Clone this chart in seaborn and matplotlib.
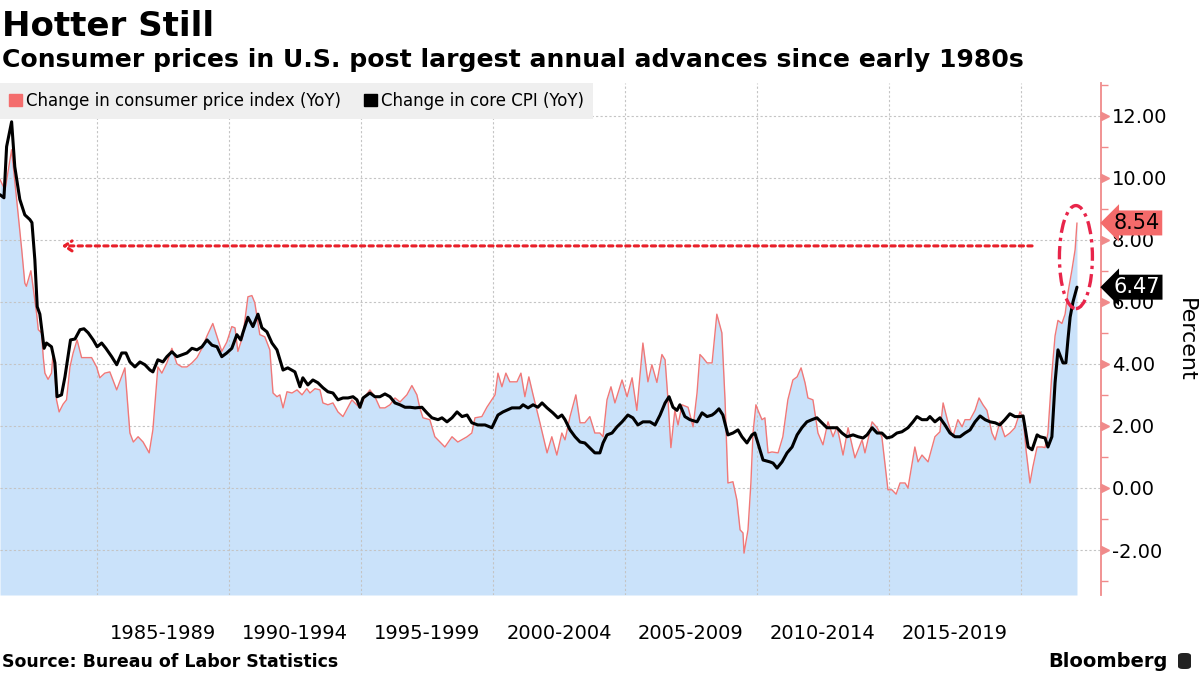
import matplotlib
matplotlib.use("Agg")
import matplotlib.pyplot as plt
import seaborn as sns
import pandas as pd
import numpy as np
from matplotlib.patches import Ellipse, Patch, FancyBboxPatch

# ---------------- data ----------------
cpi_year = [1981.33, 1981.52, 1981.77, 1981.96, 1982.15, 1982.27, 1982.33, 1982.50, 1982.58, 1982.72,
            1982.78, 1982.90, 1982.97, 1983.03, 1983.15, 1983.28, 1983.34, 1983.41, 1983.47, 1983.57,
            1983.72, 1983.85, 1983.98, 1984.10, 1984.25, 1984.42, 1984.61, 1984.80, 1984.99, 1985.11,
            1985.30, 1985.49, 1985.75, 1985.90, 1986.06, 1986.25, 1986.38, 1986.56, 1986.75, 1986.98,
            1987.12, 1987.31, 1987.46, 1987.65, 1987.84, 1988.03, 1988.22, 1988.41, 1988.60, 1988.79,
            1988.98, 1989.17, 1989.39, 1989.58, 1989.73, 1989.92, 1990.11, 1990.23, 1990.34, 1990.53,
            1990.72, 1990.87, 1990.98, 1991.17, 1991.36, 1991.55, 1991.67, 1991.82, 1991.93, 1992.05,
            1992.20, 1992.39, 1992.58, 1992.77, 1992.95, 1993.07, 1993.26, 1993.45, 1993.56, 1993.75,
            1993.94, 1994.13, 1994.32, 1994.51, 1994.66, 1994.77, 1994.96, 1995.15, 1995.34, 1995.53,
            1995.72, 1995.91, 1996.10, 1996.29, 1996.48, 1996.74, 1996.93, 1997.12, 1997.23, 1997.35,
            1997.61, 1997.80, 1998.18, 1998.45, 1998.67, 1999.02, 1999.20, 1999.32, 1999.58, 1999.77,
            2000.08, 2000.19, 2000.34, 2000.49, 2000.64, 2000.91, 2001.06, 2001.21, 2001.36, 2001.52,
            2001.78, 2002.05, 2002.23, 2002.42, 2002.61, 2002.73, 2002.92, 2003.14, 2003.30, 2003.48,
            2003.67, 2003.86, 2004.05, 2004.17, 2004.32, 2004.47, 2004.62, 2004.89, 2005.08, 2005.27,
            2005.45, 2005.68, 2005.87, 2006.02, 2006.21, 2006.40, 2006.52, 2006.63, 2006.74, 2006.89,
            2007.01, 2007.16, 2007.39, 2007.58, 2007.73, 2007.84, 2007.95, 2008.11, 2008.30, 2008.41,
            2008.48, 2008.67, 2008.79, 2008.90, 2009.09, 2009.24, 2009.36, 2009.47, 2009.51, 2009.66,
            2009.77, 2009.85, 2009.96, 2010.04, 2010.19, 2010.30, 2010.42, 2010.57, 2010.80, 2010.98,
            2011.17, 2011.36, 2011.52, 2011.67, 2011.82, 2011.93, 2012.12, 2012.31, 2012.50, 2012.69,
            2012.88, 2013.03, 2013.14, 2013.26, 2013.45, 2013.71, 2013.98, 2014.09, 2014.36, 2014.55,
            2014.73, 2014.96, 2015.11, 2015.27, 2015.42, 2015.61, 2015.72, 2015.98, 2016.10, 2016.25,
            2016.48, 2016.74, 2016.93, 2017.05, 2017.23, 2017.42, 2017.61, 2017.77, 2017.88, 2018.07,
            2018.26, 2018.41, 2018.56, 2018.71, 2018.90, 2019.02, 2019.20, 2019.39, 2019.58, 2019.77,
            2019.96, 2020.08, 2020.19, 2020.34, 2020.45, 2020.61, 2020.80, 2020.91, 2021.02, 2021.17,
            2021.29, 2021.40, 2021.55, 2021.67, 2021.78, 2021.93, 2022.05, 2022.12]

cpi_values = [9.94, 9.6, 10.9, 9.3, 7.7, 6.6, 6.5, 7.0, 6.5, 5.6,
              5.1, 5.0, 4.2, 3.7, 3.5, 3.7, 4.35, 3.7, 2.84, 2.45,
              2.7, 2.84, 3.9, 4.35, 4.77, 4.2, 4.2, 4.2, 3.9, 3.55,
              3.7, 3.74, 3.16, 3.5, 3.87, 1.77, 1.48, 1.65, 1.48, 1.13,
              1.87, 3.9, 3.7, 4.03, 4.5, 4.0, 3.9, 3.9, 4.03, 4.2,
              4.5, 4.9, 5.3, 4.8, 4.4, 4.7, 5.2, 5.16, 4.4, 4.9,
              6.16, 6.2, 5.97, 4.94, 4.87, 4.45, 3.06, 2.94, 3.0, 2.58,
              3.1, 3.06, 3.16, 3.0, 3.2, 3.06, 3.2, 3.16, 2.74, 2.68,
              2.74, 2.45, 2.3, 2.6, 2.84, 2.74, 2.58, 2.94, 3.16, 2.94,
              2.58, 2.58, 2.68, 2.9, 2.77, 3.0, 3.3, 3.0, 2.58, 2.26,
              2.2, 1.65, 1.32, 1.65, 1.48, 1.65, 1.77, 2.26, 2.3, 2.6,
              3.0, 3.7, 3.26, 3.7, 3.42, 3.42, 3.7, 2.94, 3.58, 3.0,
              2.1, 1.13, 1.65, 1.06, 1.77, 1.55, 2.3, 3.0, 2.1, 2.1,
              2.3, 1.77, 1.77, 1.65, 2.84, 3.26, 2.74, 3.48, 2.94, 3.55,
              2.5, 4.67, 3.42, 3.97, 3.4, 4.3, 4.13, 2.84, 1.3, 2.5,
              2.03, 2.68, 2.6, 1.97, 3.06, 4.3, 4.2, 4.03, 4.03, 5.0,
              5.6, 5.0, 2.84, 0.16, 0.2, -0.39, -1.35, -1.45, -2.1, -1.35,
              0.16, 1.77, 2.68, 2.5, 2.2, 2.26, 1.13, 1.16, 1.13, 1.65,
              2.84, 3.48, 3.58, 3.87, 3.39, 2.9, 2.84, 1.77, 1.39, 2.13,
              1.65, 1.97, 1.55, 1.06, 1.94, 0.97, 1.55, 1.13, 2.13, 1.94,
              1.65, -0.06, -0.06, -0.2, 0.16, 0.16, 0.0, 1.32, 0.84, 1.06,
              0.84, 1.65, 1.81, 2.74, 2.13, 1.65, 2.2, 1.97, 2.2, 2.2,
              2.5, 2.9, 2.68, 2.5, 1.77, 1.55, 2.13, 1.65, 1.77, 1.94,
              2.45, 2.26, 1.23, 0.16, 0.68, 1.32, 1.32, 1.3, 1.77, 3.7,
              4.9, 5.4, 5.3, 5.6, 6.3, 7.03, 7.68, 8.54]

core_year = [1981.33, 1981.48, 1981.58, 1981.77, 1981.89, 1982.08, 1982.27, 1982.46, 1982.54, 1982.65,
             1982.74, 1982.84, 1983.00, 1983.09, 1983.28, 1983.41, 1983.49, 1983.66, 1983.79, 1984.00,
             1984.17, 1984.36, 1984.51, 1984.67, 1984.86, 1985.01, 1985.18, 1985.34, 1985.56, 1985.75,
             1985.94, 1986.10, 1986.25, 1986.44, 1986.63, 1986.82, 1987.01, 1987.12, 1987.31, 1987.50,
             1987.65, 1987.84, 1988.03, 1988.22, 1988.41, 1988.60, 1988.79, 1988.98, 1989.17, 1989.36,
             1989.55, 1989.73, 1989.92, 1990.11, 1990.30, 1990.45, 1990.53, 1990.72, 1990.91, 1991.10,
             1991.25, 1991.44, 1991.63, 1991.82, 1992.05, 1992.23, 1992.50, 1992.69, 1992.80, 1992.99,
             1993.18, 1993.37, 1993.56, 1993.75, 1993.94, 1994.13, 1994.32, 1994.51, 1994.70, 1994.85,
             1994.96, 1995.08, 1995.34, 1995.53, 1995.72, 1995.91, 1996.10, 1996.29, 1996.48, 1996.67,
             1996.86, 1997.05, 1997.31, 1997.50, 1997.69, 1997.92, 1998.07, 1998.26, 1998.45, 1998.64,
             1998.83, 1999.02, 1999.20, 1999.43, 1999.70, 1999.96, 2000.19, 2000.38, 2000.72, 2001.02,
             2001.14, 2001.33, 2001.52, 2001.70, 2001.86, 2002.05, 2002.27, 2002.46, 2002.61, 2002.73,
             2002.92, 2003.11, 2003.30, 2003.48, 2003.67, 2003.86, 2004.05, 2004.17, 2004.32, 2004.51,
             2004.70, 2004.89, 2005.11, 2005.30, 2005.49, 2005.68, 2005.95, 2006.14, 2006.33, 2006.52,
             2006.67, 2006.82, 2006.97, 2007.08, 2007.27, 2007.46, 2007.73, 2007.92, 2008.11, 2008.30,
             2008.41, 2008.56, 2008.71, 2008.90, 2009.09, 2009.28, 2009.43, 2009.62, 2009.81, 2009.92,
             2010.11, 2010.23, 2010.49, 2010.61, 2010.76, 2010.95, 2011.14, 2011.33, 2011.52, 2011.70,
             2011.89, 2012.08, 2012.27, 2012.46, 2012.65, 2012.84, 2013.03, 2013.22, 2013.41, 2013.64,
             2013.83, 2014.02, 2014.17, 2014.36, 2014.55, 2014.73, 2014.92, 2015.11, 2015.30, 2015.49,
             2015.72, 2015.91, 2016.06, 2016.25, 2016.44, 2016.55, 2016.74, 2016.93, 2017.12, 2017.31,
             2017.50, 2017.69, 2017.88, 2018.07, 2018.26, 2018.45, 2018.64, 2018.83, 2019.02, 2019.20,
             2019.39, 2019.58, 2019.77, 2019.96, 2020.08, 2020.15, 2020.27, 2020.42, 2020.61, 2020.72,
             2020.91, 2021.02, 2021.17, 2021.29, 2021.40, 2021.59, 2021.70, 2021.78, 2021.86, 2021.97,
             2022.12]

core_values = [9.45, 9.35, 11.0, 11.8, 10.35, 9.3, 8.8, 8.65, 8.55, 7.35,
               5.84, 5.6, 4.5, 4.67, 4.55, 4.03, 2.94, 3.0, 3.58, 4.77,
               4.8, 5.1, 5.13, 5.0, 4.77, 4.55, 4.67, 4.5, 4.23, 3.97,
               4.35, 4.35, 4.06, 3.9, 4.06, 3.97, 3.8, 3.74, 4.13, 4.06,
               4.23, 4.39, 4.23, 4.29, 4.35, 4.5, 4.45, 4.55, 4.77, 4.6,
               4.55, 4.23, 4.35, 4.5, 4.94, 4.77, 5.0, 5.5, 5.2, 5.6,
               5.16, 5.03, 4.67, 4.45, 3.8, 3.87, 3.74, 3.26, 3.55, 3.32,
               3.48, 3.39, 3.23, 3.1, 3.06, 2.84, 2.9, 2.9, 2.94, 2.84,
               2.6, 2.9, 3.06, 2.94, 2.94, 3.03, 2.94, 2.74, 2.68, 2.6,
               2.6, 2.58, 2.6, 2.42, 2.26, 2.2, 2.26, 2.13, 2.26, 2.45,
               2.3, 2.35, 2.1, 2.03, 2.03, 1.94, 2.35, 2.45, 2.58, 2.58,
               2.68, 2.58, 2.68, 2.6, 2.74, 2.58, 2.42, 2.26, 2.35, 2.2,
               1.87, 1.65, 1.48, 1.45, 1.29, 1.13, 1.13, 1.45, 1.71, 1.77,
               1.97, 2.13, 2.35, 2.26, 2.03, 2.13, 2.13, 2.03, 2.35, 2.74,
               2.94, 2.6, 2.5, 2.68, 2.3, 2.2, 2.13, 2.42, 2.3, 2.35,
               2.42, 2.55, 2.35, 1.71, 1.77, 1.87, 1.65, 1.45, 1.71, 1.77,
               1.23, 0.9, 0.84, 0.8, 0.64, 0.84, 1.13, 1.32, 1.71, 1.94,
               2.13, 2.2, 2.26, 2.1, 1.94, 1.94, 1.94, 1.77, 1.65, 1.71,
               1.65, 1.61, 1.71, 1.94, 1.77, 1.77, 1.61, 1.65, 1.77, 1.81,
               1.94, 2.13, 2.3, 2.2, 2.2, 2.3, 2.13, 2.26, 2.03, 1.77,
               1.65, 1.65, 1.77, 1.87, 2.13, 2.32, 2.2, 2.13, 2.1, 2.03,
               2.2, 2.39, 2.3, 2.3, 2.32, 1.97, 1.32, 1.23, 1.71, 1.65,
               1.61, 1.32, 1.65, 3.39, 4.45, 4.03, 4.03, 4.8, 5.5, 6.0,
               6.47]

series_names = ["Change in consumer price index (YoY)", "Change in core CPI (YoY)"]
period_labels = ["1985-1989", "1990-1994", "1995-1999", "2000-2004",
                 "2005-2009", "2010-2014", "2015-2019"]
period_starts = [1985, 1990, 1995, 2000, 2005, 2010, 2015, 2020]
y_ticks = [-2, 0, 2, 4, 6, 8, 10, 12]
last_cpi = 8.54
last_core = 6.47
reference_level = 7.8          # dotted arrow level (early-1980s comparison)
ref_start, ref_end = 1983.67, 2020.42

# ---------------- style ----------------
sns.set_theme(style="white")
plt.rcParams['font.family'] = ['DejaVu Sans']
plt.rcParams.update({'text.color': 'black', 'axes.labelcolor': 'black',
                     'xtick.color': 'black', 'ytick.color': 'black'})

RED_LINE = '#f07878'
FILL = '#cae2fa'
SPINE = '#f08a8a'
GRID = '#c4c4c4'

W, H = 1200, 675
fig = plt.figure(figsize=(12, 6.75), dpi=100)
ax_left, ax_right, ax_top, ax_bot = 0, 1101, 83, 595
ax = fig.add_axes([ax_left / W, 1 - ax_bot / H, (ax_right - ax_left) / W, (ax_bot - ax_top) / H])

YMIN, YMAX = -3.45, 13.05
XMIN, XMAX = 1981.33, 2023.03

cpi_df = pd.DataFrame({"year": cpi_year, "value": cpi_values})
core_df = pd.DataFrame({"year": core_year, "value": core_values})

ax.fill_between(cpi_df["year"], YMIN, cpi_df["value"], color=FILL, lw=0, zorder=0.2)
sns.lineplot(data=cpi_df, x="year", y="value", ax=ax, color=RED_LINE, lw=1.0, zorder=3)
sns.lineplot(data=core_df, x="year", y="value", ax=ax, color='black', lw=2.2, zorder=4)

ax.set_xlim(XMIN, XMAX)
ax.set_ylim(YMIN, YMAX)
ax.set_xlabel("")
ax.set_ylabel("")

# x axis: period labels centred between vertical gridlines
mids = [s + 2.5 for s in period_starts[:-1]]
ax.set_xticks(mids)
ax.set_xticklabels(period_labels)
ax.set_xticks(period_starts, minor=True)
ax.tick_params(axis='x', which='both', length=0, pad=21, labelsize=14, labelcolor='black')

# y axis on the right
ax.yaxis.tick_right()
ax.set_yticks(y_ticks)
ax.set_yticklabels([f"{v:.2f}" for v in y_ticks])
ax.set_yticks(np.arange(-3, 14, 2), minor=True)
ax.tick_params(axis='y', which='major', length=0, pad=8, labelsize=14, labelcolor='black',
               right=True, left=False, labelright=True, labelleft=False)
ax.tick_params(axis='y', which='minor', length=5, width=1, color=SPINE, direction='out',
               right=True, left=False)

ax.set_axisbelow(True)
ax.grid(axis='y', which='major', color=GRID, linestyle=(0, (2, 2)), lw=0.8)
ax.grid(axis='x', which='minor', color=GRID, linestyle=(0, (2, 2)), lw=0.8)
ax.grid(axis='x', which='major', visible=False)

for s in ['top', 'left', 'bottom']:
    ax.spines[s].set_visible(False)
ax.spines['right'].set_color(SPINE)
ax.spines['right'].set_linewidth(1.3)

# triangular major tick markers
ax.plot([1.0035] * len(y_ticks), y_ticks, linestyle='none', marker='>', markersize=6,
        color=SPINE, transform=ax.get_yaxis_transform(), clip_on=False, zorder=5)

# legend band
handles = [Patch(color='#f46d6d'), Patch(color='black')]
leg = ax.legend(handles, series_names, loc='upper left', bbox_to_anchor=(0, 1), ncol=2,
                frameon=True, facecolor='#efefef', edgecolor='none', fancybox=False, framealpha=1,
                fontsize=12, handlelength=0.75, handleheight=0.75, handletextpad=0.25,
                columnspacing=1.4, borderaxespad=0, borderpad=0.55, labelcolor='black')
leg.set_zorder(10)

# dotted reference arrow
ax.annotate('', xy=(ref_start, reference_level), xytext=(ref_end, reference_level),
            arrowprops=dict(arrowstyle='->,head_length=0.45,head_width=0.3', color='#e8202a',
                            lw=2.2, linestyle=(0, (1.4, 1.4)), shrinkA=0, shrinkB=0), zorder=6)

# dash-dot ellipse around latest readings
ell = Ellipse((2022.08, 7.44), width=1.25, height=3.32, fill=False, ec='#e8254a', lw=2.4,
              linestyle=(0, (4, 1.5, 1, 1.5)), zorder=7, clip_on=False)
ax.add_patch(ell)

# last-value tags
ax.annotate(f"{last_cpi:.2f}", xy=(1, last_cpi), xycoords=ax.get_yaxis_transform(),
            xytext=(9, 0), textcoords='offset points', ha='left', va='center', fontsize=15,
            color='black', bbox=dict(boxstyle='larrow,pad=0.12', fc='#f46a6a', ec='none'),
            annotation_clip=False, zorder=11)
ax.annotate(f"{last_core:.2f}", xy=(1, last_core), xycoords=ax.get_yaxis_transform(),
            xytext=(9, 0), textcoords='offset points', ha='left', va='center', fontsize=15,
            color='white', bbox=dict(boxstyle='larrow,pad=0.12', fc='black', ec='none'),
            annotation_clip=False, zorder=11)

fig.text(1186 / W, 1 - 340 / H, 'Percent', rotation=270, ha='center', va='center', fontsize=16,
         color='black')

# titles & footer
fig.text(2 / W, 1 - 36 / H, 'Hotter Still', fontsize=24.5, fontweight='bold', va='baseline',
         ha='left', color='black')
fig.text(2 / W, 1 - 67 / H, 'Consumer prices in U.S. post largest annual advances since early 1980s',
         fontsize=18.1, fontweight='bold', va='baseline', ha='left', color='black')
fig.text(2 / W, 1 - 667 / H, 'Source: Bureau of Labor Statistics', fontsize=12.5,
         fontweight='bold', va='baseline', ha='left', color='black')
fig.text(1168 / W, 1 - 667 / H, 'Bloomberg', fontsize=14, fontweight='bold', va='baseline',
         ha='right', color='black')
fig.patches.append(FancyBboxPatch((1178 / W, 1 - 669 / H), 13 / W, 16 / H,
                                  boxstyle='round,pad=0.0,rounding_size=0.004',
                                  transform=fig.transFigure, fc='#222222', ec='none'))

fig.savefig('out.png', dpi=100, facecolor='white')
